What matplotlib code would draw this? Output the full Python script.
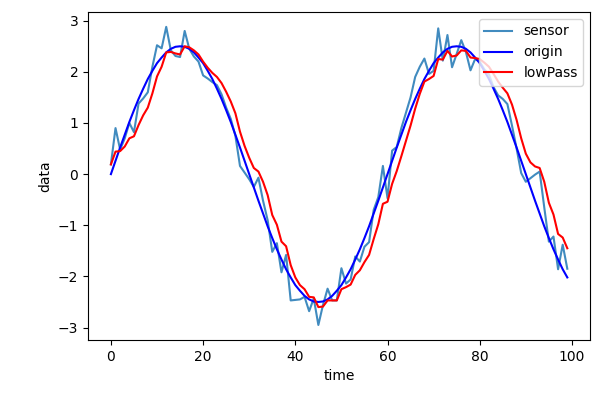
import matplotlib
matplotlib.use("Agg")
import matplotlib.pyplot as plt

time = list(range(100))

sensor = [0.19, 0.9, 0.48, 0.7, 1.0, 0.82, 1.38, 1.48, 1.6, 2.1,
          2.52, 2.46, 2.88, 2.42, 2.31, 2.29, 2.8, 2.45, 2.3, 2.2,
          1.93, 1.87, 1.8, 1.74, 1.56, 1.3, 1.08, 0.75, 0.16, 0.03,
          -0.1, -0.25, -0.07, -0.52, -0.9, -1.52, -1.35, -1.92, -1.58, -2.47,
          -2.46, -2.45, -2.4, -2.68, -2.43, -2.95, -2.56, -2.24, -2.47, -2.47,
          -1.84, -2.14, -2.06, -1.61, -1.71, -1.42, -1.33, -0.7, -0.45, 0.16,
          -0.47, 0.46, 0.53, 0.9, 1.2, 1.5, 1.9, 2.1, 2.26, 1.96,
          2.02, 2.85, 2.22, 2.72, 2.09, 2.35, 2.62, 2.39, 2.03, 2.25,
          2.2, 2.05, 1.95, 1.7, 1.54, 1.47, 1.37, 0.95, 0.5, 0.02,
          -0.15, -0.08, -0.01, 0.05, -0.65, -1.32, -1.22, -1.86, -1.38, -1.85]

origin = [0.0, 0.26, 0.52, 0.77, 1.02, 1.25, 1.47, 1.67, 1.86, 2.02,
          2.17, 2.28, 2.38, 2.45, 2.49, 2.5, 2.49, 2.45, 2.38, 2.28,
          2.17, 2.02, 1.86, 1.67, 1.47, 1.25, 1.02, 0.77, 0.52, 0.26,
          0.0, -0.26, -0.52, -0.77, -1.02, -1.25, -1.47, -1.67, -1.86, -2.02,
          -2.17, -2.28, -2.38, -2.45, -2.49, -2.5, -2.49, -2.45, -2.38, -2.28,
          -2.17, -2.02, -1.86, -1.67, -1.47, -1.25, -1.02, -0.77, -0.52, -0.26,
          0.0, 0.26, 0.52, 0.77, 1.02, 1.25, 1.47, 1.67, 1.86, 2.02,
          2.17, 2.28, 2.38, 2.45, 2.49, 2.5, 2.49, 2.45, 2.38, 2.28,
          2.17, 2.02, 1.86, 1.67, 1.47, 1.25, 1.02, 0.77, 0.52, 0.26,
          0.0, -0.26, -0.52, -0.77, -1.02, -1.25, -1.47, -1.67, -1.86, -2.02]

lowPass = [0.19, 0.44, 0.45, 0.54, 0.70, 0.74, 0.96, 1.15, 1.30, 1.58,
           1.91, 2.10, 2.38, 2.39, 2.36, 2.34, 2.50, 2.48, 2.42, 2.34,
           2.20, 2.08, 1.98, 1.90, 1.78, 1.61, 1.42, 1.19, 0.83, 0.55,
           0.32, 0.12, 0.05, -0.15, -0.41, -0.80, -0.99, -1.32, -1.41, -1.78,
           -2.02, -2.17, -2.25, -2.40, -2.41, -2.60, -2.59, -2.47, -2.47, -2.47,
           -2.25, -2.21, -2.16, -1.97, -1.88, -1.72, -1.58, -1.27, -0.98, -0.58,
           -0.54, -0.19, 0.06, 0.35, 0.65, 0.95, 1.28, 1.57, 1.81, 1.86,
           1.92, 2.25, 2.24, 2.41, 2.30, 2.32, 2.42, 2.41, 2.28, 2.27,
           2.25, 2.18, 2.10, 1.96, 1.81, 1.69, 1.58, 1.36, 1.06, 0.70,
           0.40, 0.23, 0.15, 0.12, -0.15, -0.56, -0.79, -1.17, -1.24, -1.45]

fig = plt.figure(figsize=(6.16, 3.98), dpi=100)
ax = fig.add_axes([0.143, 0.146, 0.815, 0.824])
ax.plot(time, sensor, color="#1f77b4", alpha=0.85, lw=1.5, label="sensor")
ax.plot(time, origin, color="blue", lw=1.5, label="origin")
ax.plot(time, lowPass, color="red", lw=1.5, label="lowPass")
ax.set_xlabel("time")
ax.set_ylabel("data")
ax.legend(loc="upper right")
fig.savefig("out.png", dpi=100)
